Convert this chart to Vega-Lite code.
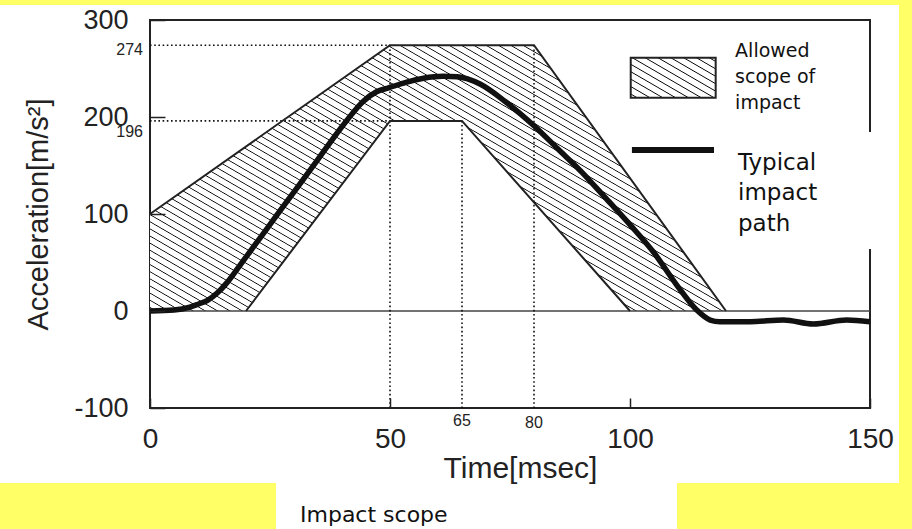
{
 "$schema": "https://vega.github.io/schema/vega-lite/v6.json",
 "width": 720,
 "height": 388,
 "autosize": {"type": "none"},
 "padding": {"left": 150, "top": 20, "right": 42, "bottom": 121},
 "background": "#ffffff",
 "config": {"view": {"stroke": "#222222", "strokeWidth": 2}, "font": "Liberation Sans"},
 "encoding": {
  "x": {"field": "x", "type": "quantitative", "title": "Time[msec]",
   "scale": {"domain": [0, 150], "nice": false, "zero": false},
   "axis": {"values": [0, 50, 100, 150], "domain": false, "grid": false, "zindex": 1,
    "tickSize": -10, "tickColor": "#222222", "tickWidth": 1.5,
    "labelFontSize": 28, "labelColor": "#222222", "labelPadding": 27, "labelFlush": false, "labelOverlap": false,
    "titleFontSize": 30, "titleFontWeight": "normal", "titleColor": "#222222", "titlePadding": 0, "titleX": 370}},
  "y": {"field": "y", "type": "quantitative", "title": "Acceleration[m/s²]",
   "scale": {"domain": [-100, 300], "nice": false, "zero": false},
   "axis": {"values": [-100, 0, 100, 200, 300], "domain": false, "grid": false, "zindex": 1,
    "tickSize": -15, "tickColor": "#222222", "tickWidth": 1.5, "labelExpr": "'' + datum.value",
    "labelFontSize": 27, "labelColor": "#222222", "labelPadding": 37, "labelFlush": false, "labelOverlap": false,
    "titleFontSize": 29, "titleFontWeight": "normal", "titleColor": "#222222", "titlePadding": 20}}
 },
 "layer": [
  {
   "data": {"values": [
    {"x": -40, "x2": 170, "y": 315.46, "y2": 340},
    {"x": 156.04, "x2": 170, "y": -240, "y2": 340},
    {"x": -40, "x2": 26.25, "y": -240, "y2": -177.32},
    {"x": 109.79, "x2": 170, "y": -240, "y2": -177.32}
   ]},
   "mark": {"type": "rect", "fill": "#ffff66", "strokeWidth": 0},
   "encoding": {"x2": {"field": "x2"}, "y2": {"field": "y2"}}
  },
  {
   "data": {"values": [
    {"x": 0, "y": 100, "y2": 0},
    {"x": 20, "y": 170, "y2": 0},
    {"x": 50, "y": 274, "y2": 196},
    {"x": 65, "y": 274, "y2": 196},
    {"x": 80, "y": 274, "y2": 112},
    {"x": 100, "y": 137, "y2": 0},
    {"x": 120, "y": 0, "y2": 0}
   ]},
   "mark": {"type": "area", "interpolate": "linear", "fill": {"gradient": "linear", "x1": 0, "y1": 1, "x2": 1.0996, "y2": 0.1252, "stops": [
    {"offset": 0, "color": "#ffffff"},
    {"offset": 0.0045, "color": "#ffffff"},{"offset": 0.0060, "color": "#000000"},{"offset": 0.0075, "color": "#ffffff"},
    {"offset": 0.0164, "color": "#ffffff"},{"offset": 0.0179, "color": "#000000"},{"offset": 0.0194, "color": "#ffffff"},
    {"offset": 0.0283, "color": "#ffffff"},{"offset": 0.0298, "color": "#000000"},{"offset": 0.0313, "color": "#ffffff"},
    {"offset": 0.0402, "color": "#ffffff"},{"offset": 0.0417, "color": "#000000"},{"offset": 0.0432, "color": "#ffffff"},
    {"offset": 0.0521, "color": "#ffffff"},{"offset": 0.0536, "color": "#000000"},{"offset": 0.0551, "color": "#ffffff"},
    {"offset": 0.0640, "color": "#ffffff"},{"offset": 0.0655, "color": "#000000"},{"offset": 0.0670, "color": "#ffffff"},
    {"offset": 0.0759, "color": "#ffffff"},{"offset": 0.0774, "color": "#000000"},{"offset": 0.0789, "color": "#ffffff"},
    {"offset": 0.0878, "color": "#ffffff"},{"offset": 0.0893, "color": "#000000"},{"offset": 0.0908, "color": "#ffffff"},
    {"offset": 0.0997, "color": "#ffffff"},{"offset": 0.1012, "color": "#000000"},{"offset": 0.1027, "color": "#ffffff"},
    {"offset": 0.1116, "color": "#ffffff"},{"offset": 0.1131, "color": "#000000"},{"offset": 0.1146, "color": "#ffffff"},
    {"offset": 0.1235, "color": "#ffffff"},{"offset": 0.1250, "color": "#000000"},{"offset": 0.1265, "color": "#ffffff"},
    {"offset": 0.1354, "color": "#ffffff"},{"offset": 0.1369, "color": "#000000"},{"offset": 0.1384, "color": "#ffffff"},
    {"offset": 0.1473, "color": "#ffffff"},{"offset": 0.1488, "color": "#000000"},{"offset": 0.1503, "color": "#ffffff"},
    {"offset": 0.1592, "color": "#ffffff"},{"offset": 0.1607, "color": "#000000"},{"offset": 0.1622, "color": "#ffffff"},
    {"offset": 0.1711, "color": "#ffffff"},{"offset": 0.1726, "color": "#000000"},{"offset": 0.1741, "color": "#ffffff"},
    {"offset": 0.1830, "color": "#ffffff"},{"offset": 0.1845, "color": "#000000"},{"offset": 0.1860, "color": "#ffffff"},
    {"offset": 0.1949, "color": "#ffffff"},{"offset": 0.1964, "color": "#000000"},{"offset": 0.1979, "color": "#ffffff"},
    {"offset": 0.2068, "color": "#ffffff"},{"offset": 0.2083, "color": "#000000"},{"offset": 0.2098, "color": "#ffffff"},
    {"offset": 0.2187, "color": "#ffffff"},{"offset": 0.2202, "color": "#000000"},{"offset": 0.2217, "color": "#ffffff"},
    {"offset": 0.2306, "color": "#ffffff"},{"offset": 0.2321, "color": "#000000"},{"offset": 0.2336, "color": "#ffffff"},
    {"offset": 0.2425, "color": "#ffffff"},{"offset": 0.2440, "color": "#000000"},{"offset": 0.2455, "color": "#ffffff"},
    {"offset": 0.2545, "color": "#ffffff"},{"offset": 0.2560, "color": "#000000"},{"offset": 0.2575, "color": "#ffffff"},
    {"offset": 0.2664, "color": "#ffffff"},{"offset": 0.2679, "color": "#000000"},{"offset": 0.2694, "color": "#ffffff"},
    {"offset": 0.2783, "color": "#ffffff"},{"offset": 0.2798, "color": "#000000"},{"offset": 0.2813, "color": "#ffffff"},
    {"offset": 0.2902, "color": "#ffffff"},{"offset": 0.2917, "color": "#000000"},{"offset": 0.2932, "color": "#ffffff"},
    {"offset": 0.3021, "color": "#ffffff"},{"offset": 0.3036, "color": "#000000"},{"offset": 0.3051, "color": "#ffffff"},
    {"offset": 0.3140, "color": "#ffffff"},{"offset": 0.3155, "color": "#000000"},{"offset": 0.3170, "color": "#ffffff"},
    {"offset": 0.3259, "color": "#ffffff"},{"offset": 0.3274, "color": "#000000"},{"offset": 0.3289, "color": "#ffffff"},
    {"offset": 0.3378, "color": "#ffffff"},{"offset": 0.3393, "color": "#000000"},{"offset": 0.3408, "color": "#ffffff"},
    {"offset": 0.3497, "color": "#ffffff"},{"offset": 0.3512, "color": "#000000"},{"offset": 0.3527, "color": "#ffffff"},
    {"offset": 0.3616, "color": "#ffffff"},{"offset": 0.3631, "color": "#000000"},{"offset": 0.3646, "color": "#ffffff"},
    {"offset": 0.3735, "color": "#ffffff"},{"offset": 0.3750, "color": "#000000"},{"offset": 0.3765, "color": "#ffffff"},
    {"offset": 0.3854, "color": "#ffffff"},{"offset": 0.3869, "color": "#000000"},{"offset": 0.3884, "color": "#ffffff"},
    {"offset": 0.3973, "color": "#ffffff"},{"offset": 0.3988, "color": "#000000"},{"offset": 0.4003, "color": "#ffffff"},
    {"offset": 0.4092, "color": "#ffffff"},{"offset": 0.4107, "color": "#000000"},{"offset": 0.4122, "color": "#ffffff"},
    {"offset": 0.4211, "color": "#ffffff"},{"offset": 0.4226, "color": "#000000"},{"offset": 0.4241, "color": "#ffffff"},
    {"offset": 0.4330, "color": "#ffffff"},{"offset": 0.4345, "color": "#000000"},{"offset": 0.4360, "color": "#ffffff"},
    {"offset": 0.4449, "color": "#ffffff"},{"offset": 0.4464, "color": "#000000"},{"offset": 0.4479, "color": "#ffffff"},
    {"offset": 0.4568, "color": "#ffffff"},{"offset": 0.4583, "color": "#000000"},{"offset": 0.4598, "color": "#ffffff"},
    {"offset": 0.4687, "color": "#ffffff"},{"offset": 0.4702, "color": "#000000"},{"offset": 0.4717, "color": "#ffffff"},
    {"offset": 0.4806, "color": "#ffffff"},{"offset": 0.4821, "color": "#000000"},{"offset": 0.4836, "color": "#ffffff"},
    {"offset": 0.4925, "color": "#ffffff"},{"offset": 0.4940, "color": "#000000"},{"offset": 0.4955, "color": "#ffffff"},
    {"offset": 0.5045, "color": "#ffffff"},{"offset": 0.5060, "color": "#000000"},{"offset": 0.5075, "color": "#ffffff"},
    {"offset": 0.5164, "color": "#ffffff"},{"offset": 0.5179, "color": "#000000"},{"offset": 0.5194, "color": "#ffffff"},
    {"offset": 0.5283, "color": "#ffffff"},{"offset": 0.5298, "color": "#000000"},{"offset": 0.5313, "color": "#ffffff"},
    {"offset": 0.5402, "color": "#ffffff"},{"offset": 0.5417, "color": "#000000"},{"offset": 0.5432, "color": "#ffffff"},
    {"offset": 0.5521, "color": "#ffffff"},{"offset": 0.5536, "color": "#000000"},{"offset": 0.5551, "color": "#ffffff"},
    {"offset": 0.5640, "color": "#ffffff"},{"offset": 0.5655, "color": "#000000"},{"offset": 0.5670, "color": "#ffffff"},
    {"offset": 0.5759, "color": "#ffffff"},{"offset": 0.5774, "color": "#000000"},{"offset": 0.5789, "color": "#ffffff"},
    {"offset": 0.5878, "color": "#ffffff"},{"offset": 0.5893, "color": "#000000"},{"offset": 0.5908, "color": "#ffffff"},
    {"offset": 0.5997, "color": "#ffffff"},{"offset": 0.6012, "color": "#000000"},{"offset": 0.6027, "color": "#ffffff"},
    {"offset": 0.6116, "color": "#ffffff"},{"offset": 0.6131, "color": "#000000"},{"offset": 0.6146, "color": "#ffffff"},
    {"offset": 0.6235, "color": "#ffffff"},{"offset": 0.6250, "color": "#000000"},{"offset": 0.6265, "color": "#ffffff"},
    {"offset": 0.6354, "color": "#ffffff"},{"offset": 0.6369, "color": "#000000"},{"offset": 0.6384, "color": "#ffffff"},
    {"offset": 0.6473, "color": "#ffffff"},{"offset": 0.6488, "color": "#000000"},{"offset": 0.6503, "color": "#ffffff"},
    {"offset": 0.6592, "color": "#ffffff"},{"offset": 0.6607, "color": "#000000"},{"offset": 0.6622, "color": "#ffffff"},
    {"offset": 0.6711, "color": "#ffffff"},{"offset": 0.6726, "color": "#000000"},{"offset": 0.6741, "color": "#ffffff"},
    {"offset": 0.6830, "color": "#ffffff"},{"offset": 0.6845, "color": "#000000"},{"offset": 0.6860, "color": "#ffffff"},
    {"offset": 0.6949, "color": "#ffffff"},{"offset": 0.6964, "color": "#000000"},{"offset": 0.6979, "color": "#ffffff"},
    {"offset": 0.7068, "color": "#ffffff"},{"offset": 0.7083, "color": "#000000"},{"offset": 0.7098, "color": "#ffffff"},
    {"offset": 0.7187, "color": "#ffffff"},{"offset": 0.7202, "color": "#000000"},{"offset": 0.7217, "color": "#ffffff"},
    {"offset": 0.7306, "color": "#ffffff"},{"offset": 0.7321, "color": "#000000"},{"offset": 0.7336, "color": "#ffffff"},
    {"offset": 0.7425, "color": "#ffffff"},{"offset": 0.7440, "color": "#000000"},{"offset": 0.7455, "color": "#ffffff"},
    {"offset": 0.7545, "color": "#ffffff"},{"offset": 0.7560, "color": "#000000"},{"offset": 0.7575, "color": "#ffffff"},
    {"offset": 0.7664, "color": "#ffffff"},{"offset": 0.7679, "color": "#000000"},{"offset": 0.7694, "color": "#ffffff"},
    {"offset": 0.7783, "color": "#ffffff"},{"offset": 0.7798, "color": "#000000"},{"offset": 0.7813, "color": "#ffffff"},
    {"offset": 0.7902, "color": "#ffffff"},{"offset": 0.7917, "color": "#000000"},{"offset": 0.7932, "color": "#ffffff"},
    {"offset": 0.8021, "color": "#ffffff"},{"offset": 0.8036, "color": "#000000"},{"offset": 0.8051, "color": "#ffffff"},
    {"offset": 0.8140, "color": "#ffffff"},{"offset": 0.8155, "color": "#000000"},{"offset": 0.8170, "color": "#ffffff"},
    {"offset": 0.8259, "color": "#ffffff"},{"offset": 0.8274, "color": "#000000"},{"offset": 0.8289, "color": "#ffffff"},
    {"offset": 0.8378, "color": "#ffffff"},{"offset": 0.8393, "color": "#000000"},{"offset": 0.8408, "color": "#ffffff"},
    {"offset": 0.8497, "color": "#ffffff"},{"offset": 0.8512, "color": "#000000"},{"offset": 0.8527, "color": "#ffffff"},
    {"offset": 0.8616, "color": "#ffffff"},{"offset": 0.8631, "color": "#000000"},{"offset": 0.8646, "color": "#ffffff"},
    {"offset": 0.8735, "color": "#ffffff"},{"offset": 0.8750, "color": "#000000"},{"offset": 0.8765, "color": "#ffffff"},
    {"offset": 0.8854, "color": "#ffffff"},{"offset": 0.8869, "color": "#000000"},{"offset": 0.8884, "color": "#ffffff"},
    {"offset": 0.8973, "color": "#ffffff"},{"offset": 0.8988, "color": "#000000"},{"offset": 0.9003, "color": "#ffffff"},
    {"offset": 0.9092, "color": "#ffffff"},{"offset": 0.9107, "color": "#000000"},{"offset": 0.9122, "color": "#ffffff"},
    {"offset": 0.9211, "color": "#ffffff"},{"offset": 0.9226, "color": "#000000"},{"offset": 0.9241, "color": "#ffffff"},
    {"offset": 0.9330, "color": "#ffffff"},{"offset": 0.9345, "color": "#000000"},{"offset": 0.9360, "color": "#ffffff"},
    {"offset": 0.9449, "color": "#ffffff"},{"offset": 0.9464, "color": "#000000"},{"offset": 0.9479, "color": "#ffffff"},
    {"offset": 0.9568, "color": "#ffffff"},{"offset": 0.9583, "color": "#000000"},{"offset": 0.9598, "color": "#ffffff"},
    {"offset": 0.9687, "color": "#ffffff"},{"offset": 0.9702, "color": "#000000"},{"offset": 0.9717, "color": "#ffffff"},
    {"offset": 0.9806, "color": "#ffffff"},{"offset": 0.9821, "color": "#000000"},{"offset": 0.9836, "color": "#ffffff"},
    {"offset": 0.9925, "color": "#ffffff"},{"offset": 0.9940, "color": "#000000"},{"offset": 0.9955, "color": "#ffffff"},
    {"offset": 1, "color": "#ffffff"}
   ]}},
   "encoding": {"y2": {"field": "y2"}}
  },
  {
   "data": {"values": [{"x": 118.75, "x2": 154.2, "y": 184.5, "y2": 63.9}]},
   "mark": {"type": "rect", "fill": "#ffffff", "strokeWidth": 0},
   "encoding": {"x2": {"field": "x2"}, "y2": {"field": "y2"}}
  },
  {
   "data": {"values": [{"x": 0, "x2": 150, "y": 0}]},
   "mark": {"type": "rule", "color": "#444444", "strokeWidth": 1.5},
   "encoding": {"x2": {"field": "x2"}}
  },
  {
   "data": {"values": [
    {"x": 0, "x2": 50, "y": 274, "y2": 274},
    {"x": 0, "x2": 50, "y": 196, "y2": 196},
    {"x": 50, "x2": 50, "y": -100, "y2": 274},
    {"x": 65, "x2": 65, "y": -100, "y2": 196},
    {"x": 80, "x2": 80, "y": -100, "y2": 274}
   ]},
   "mark": {"type": "rule", "color": "#111111", "strokeWidth": 1.6, "strokeDash": [1.6, 2.6]},
   "encoding": {"x2": {"field": "x2"}, "y2": {"field": "y2"}}
  },
  {
   "data": {"values": [
    {"part": "outer", "x": 0, "y": 100},
    {"part": "outer", "x": 50, "y": 274},
    {"part": "outer", "x": 80, "y": 274},
    {"part": "outer", "x": 120, "y": 0},
    {"part": "inner", "x": 20, "y": 0},
    {"part": "inner", "x": 50, "y": 196},
    {"part": "inner", "x": 65, "y": 196},
    {"part": "inner", "x": 100, "y": 0}
   ]},
   "mark": {"type": "line", "color": "#222222", "strokeWidth": 2},
   "encoding": {"detail": {"field": "part"}}
  },
  {
   "data": {"values": [
    {"x": 0, "y": 0}, {"x": 5, "y": 1}, {"x": 8.3, "y": 4}, {"x": 10, "y": 7},
    {"x": 12, "y": 11}, {"x": 14, "y": 18.5}, {"x": 16, "y": 29}, {"x": 18, "y": 42},
    {"x": 20.8, "y": 61}, {"x": 24.3, "y": 84.5}, {"x": 27.8, "y": 108}, {"x": 34, "y": 149.5},
    {"x": 41, "y": 196.5}, {"x": 44.4, "y": 216}, {"x": 47.2, "y": 226}, {"x": 49.7, "y": 230},
    {"x": 53.5, "y": 236}, {"x": 57, "y": 240}, {"x": 61, "y": 242}, {"x": 64, "y": 241.5},
    {"x": 68.75, "y": 234}, {"x": 74, "y": 216}, {"x": 80, "y": 191}, {"x": 85, "y": 167},
    {"x": 90, "y": 143}, {"x": 95, "y": 116}, {"x": 100, "y": 89}, {"x": 105, "y": 60},
    {"x": 109.7, "y": 27}, {"x": 113.9, "y": 1}, {"x": 116.7, "y": -9.3},
    {"x": 118.75, "y": -11}, {"x": 125, "y": -11}, {"x": 132, "y": -9.3}, {"x": 138.2, "y": -13.4},
    {"x": 145.1, "y": -9.3}, {"x": 150, "y": -11}
   ]},
   "mark": {"type": "line", "color": "#111111", "strokeWidth": 5.5, "interpolate": "monotone"}
  },
  {
   "data": {"values": [{"x": 100.15, "x2": 117.85, "y": 261.1, "y2": 219.9}]},
   "mark": {"type": "rect", "stroke": "#222222", "strokeWidth": 2, "fill": {"gradient": "linear", "x1": 0, "y1": 1, "x2": 1.0923, "y2": 0.1138, "stops": [
    {"offset": 0, "color": "#ffffff"},
    {"offset": 0.0309, "color": "#ffffff"},{"offset": 0.0417, "color": "#000000"},{"offset": 0.0525, "color": "#ffffff"},
    {"offset": 0.1142, "color": "#ffffff"},{"offset": 0.1250, "color": "#000000"},{"offset": 0.1358, "color": "#ffffff"},
    {"offset": 0.1975, "color": "#ffffff"},{"offset": 0.2083, "color": "#000000"},{"offset": 0.2191, "color": "#ffffff"},
    {"offset": 0.2809, "color": "#ffffff"},{"offset": 0.2917, "color": "#000000"},{"offset": 0.3025, "color": "#ffffff"},
    {"offset": 0.3642, "color": "#ffffff"},{"offset": 0.3750, "color": "#000000"},{"offset": 0.3858, "color": "#ffffff"},
    {"offset": 0.4475, "color": "#ffffff"},{"offset": 0.4583, "color": "#000000"},{"offset": 0.4691, "color": "#ffffff"},
    {"offset": 0.5309, "color": "#ffffff"},{"offset": 0.5417, "color": "#000000"},{"offset": 0.5525, "color": "#ffffff"},
    {"offset": 0.6142, "color": "#ffffff"},{"offset": 0.6250, "color": "#000000"},{"offset": 0.6358, "color": "#ffffff"},
    {"offset": 0.6975, "color": "#ffffff"},{"offset": 0.7083, "color": "#000000"},{"offset": 0.7191, "color": "#ffffff"},
    {"offset": 0.7809, "color": "#ffffff"},{"offset": 0.7917, "color": "#000000"},{"offset": 0.8025, "color": "#ffffff"},
    {"offset": 0.8642, "color": "#ffffff"},{"offset": 0.8750, "color": "#000000"},{"offset": 0.8858, "color": "#ffffff"},
    {"offset": 0.9475, "color": "#ffffff"},{"offset": 0.9583, "color": "#000000"},{"offset": 0.9691, "color": "#ffffff"},
    {"offset": 1, "color": "#ffffff"}
   ]}},
   "encoding": {"x2": {"field": "x2"}, "y2": {"field": "y2"}}
  },
  {
   "data": {"values": [{"x": 100.4, "x2": 117.5, "y": 166}]},
   "mark": {"type": "rule", "color": "#111111", "strokeWidth": 6},
   "encoding": {"x2": {"field": "x2"}}
  },
  {
   "data": {"values": [{"x": 0, "y": 269, "t": "274"}, {"x": 0, "y": 184.5, "t": "196"}]},
   "mark": {"type": "text", "align": "right", "baseline": "middle", "dx": -7, "fontSize": 16, "color": "#222222"},
   "encoding": {"text": {"field": "t"}}
  },
  {
   "data": {"values": [{"x": 65, "y": -113.4, "t": "65"}, {"x": 80, "y": -115, "t": "80"}]},
   "mark": {"type": "text", "align": "center", "baseline": "middle", "fontSize": 16, "color": "#222222"},
   "encoding": {"text": {"field": "t"}}
  },
  {
   "data": {"values": [{"x": 121.9, "y": 262.2, "t": ["Allowed", "scope of", "impact"]}]},
   "mark": {"type": "text", "align": "left", "baseline": "alphabetic", "font": "DejaVu Sans", "fontSize": 19, "lineHeight": 26, "color": "#111111"},
   "encoding": {"text": {"field": "t"}}
  },
  {
   "data": {"values": [{"x": 122.5, "y": 145.4, "t": ["Typical", "impact", "path"]}]},
   "mark": {"type": "text", "align": "left", "baseline": "alphabetic", "font": "DejaVu Sans", "fontSize": 23, "lineHeight": 30.5, "color": "#111111"},
   "encoding": {"text": {"field": "t"}}
  },
  {
   "data": {"values": [{"x": 31.25, "y": -217.5, "t": "Impact scope"}]},
   "mark": {"type": "text", "align": "left", "baseline": "alphabetic", "font": "DejaVu Sans", "fontSize": 22, "color": "#111111"},
   "encoding": {"text": {"field": "t"}}
  }
 ]
}
